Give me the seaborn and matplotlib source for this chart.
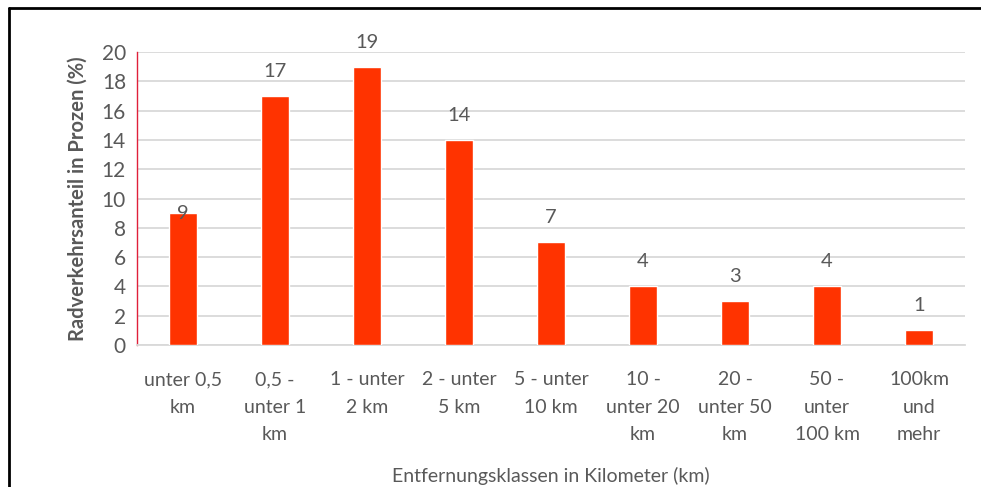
import matplotlib
matplotlib.use("Agg")
import matplotlib.pyplot as plt
import seaborn as sns
import pandas as pd
from matplotlib.lines import Line2D

categories = [
    "unter 0,5\nkm",
    "0,5 -\nunter 1\nkm",
    "1 - unter\n2 km",
    "2 - unter\n5 km",
    "5 - unter\n10 km",
    "10 -\nunter 20\nkm",
    "20 -\nunter 50\nkm",
    "50 -\nunter\n100 km",
    "100km\nund\nmehr",
]
anteil = [9, 17, 19, 14, 7, 4, 3, 4, 1]
y_ticks = list(range(0, 21, 2))

df = pd.DataFrame({"klasse": categories, "anteil": anteil})

sns.set_theme(style="white")
plt.rcParams["font.family"] = ["Lato", "DejaVu Sans"]

grey = "#595959"
fig = plt.figure(figsize=(9.81, 4.87), dpi=100)
ax = fig.add_axes([0.1397, 0.2916, 0.844, 0.6014])

sns.barplot(data=df, x="klasse", y="anteil", color="#FF3300", width=0.3,
            saturation=1, ax=ax, zorder=3)

ax.set_ylim(0, 20)
ax.set_yticks(y_ticks)
ax.set_xlim(-0.5, len(categories) - 0.5)
ax.yaxis.grid(True, color="#d9d9d9", linewidth=1.3, zorder=0)
ax.tick_params(axis="y", length=0, labelsize=15, colors=grey, pad=8)
ax.tick_params(axis="x", length=0, labelsize=14, colors=grey, pad=19)
for lbl in ax.get_xticklabels():
    lbl.set_linespacing(1.75)

for s in ["top", "right"]:
    ax.spines[s].set_visible(False)
ax.spines["left"].set_color("#e0203a")
ax.spines["left"].set_linewidth(1.0)
ax.spines["bottom"].set_color("#d9d9d9")
ax.spines["bottom"].set_linewidth(1.3)

# data labels (Excel put the first one onto the bar top)
for i, v in enumerate(anteil):
    if i == 0:
        ax.text(i, v, str(v), ha="center", va="center", fontsize=14.5, color=grey, zorder=4)
    else:
        ax.text(i, v + 1.1, str(v), ha="center", va="bottom", fontsize=14.5, color=grey)

ax.set_ylabel("Radverkehrsanteil in Prozen (%)", fontsize=14.5, color=grey,
              fontweight="bold", labelpad=10)
ax.set_xlabel("")
fig.text(0.561, 0.004, "Entfernungsklassen in Kilometer (km)", ha="center",
         va="bottom", fontsize=14, color=grey)

# outer frame (only top and left visible)
fig.add_artist(Line2D([0.009, 1.0], [0.983, 0.983], color="black", linewidth=2,
                      transform=fig.transFigure))
fig.add_artist(Line2D([0.009, 0.009], [0.0, 0.983], color="black", linewidth=2,
                      transform=fig.transFigure))

fig.savefig("out.png", dpi=100)
